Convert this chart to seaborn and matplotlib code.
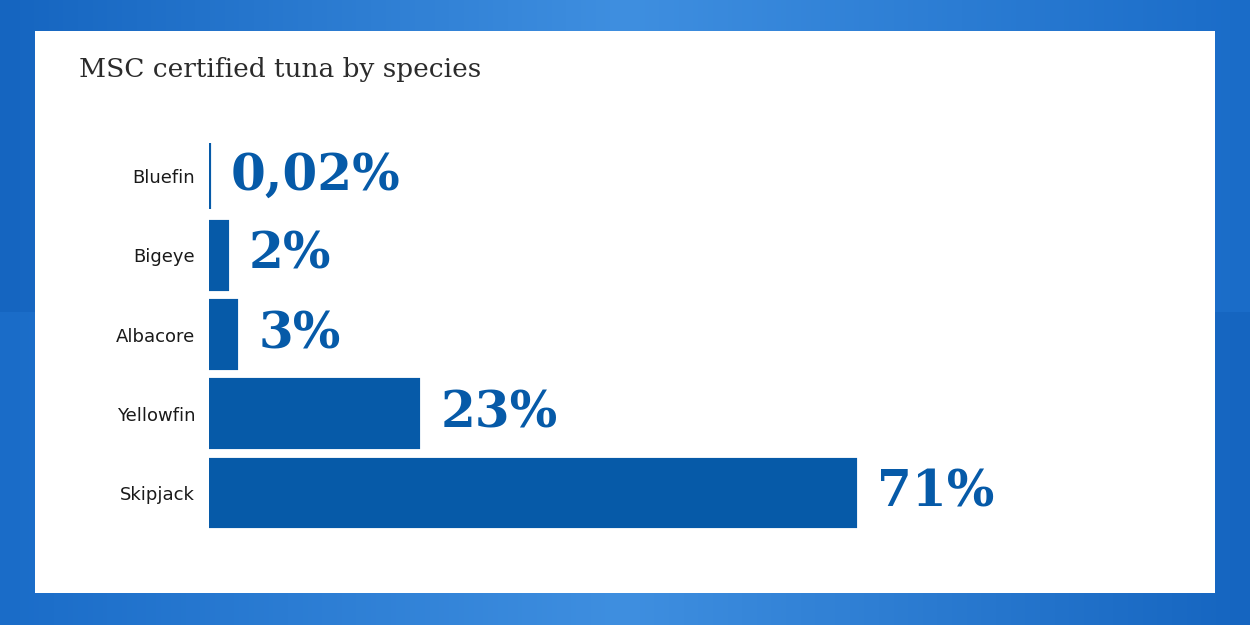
import numpy as np
import matplotlib.pyplot as plt
import seaborn as sns
from matplotlib.patches import Rectangle

species = ["Bluefin", "Bigeye", "Albacore", "Yellowfin", "Skipjack"]
shares = [0.02, 2, 3, 23, 71]
labels = ["0,02%", "2%", "3%", "23%", "71%"]

bar_color = "#065aa8"

fig = plt.figure(figsize=(12.5, 6.25), dpi=100)

# blue watery backdrop
bg = fig.add_axes([0, 0, 1, 1], zorder=-2)
grad = np.linspace(0, 1, 256).reshape(1, -1)
grad = np.vstack([grad, grad[:, ::-1]])
bg.imshow(grad, aspect="auto", cmap=sns.blend_palette(["#1565c0", "#3f8fe0", "#1a6cc8"], as_cmap=True),
          extent=[0, 1, 0, 1])
bg.axis("off")
fig.patches.append(Rectangle((35 / 1250, 1 - 593 / 625), 1180 / 1250, 562 / 625,
                             transform=fig.transFigure, facecolor="white", zorder=-1))

fig.text(79 / 1250, 1 - 70 / 625, "MSC certified tuna by species", fontsize=19,
         family="DejaVu Serif", color="#2b2b2b", va="center")

ax = fig.add_axes([209 / 1250, 1 - 532.6 / 625, 910 / 1250, 396.2 / 625])
ax.patch.set_alpha(0)
sns.barplot(x=shares, y=species, color=bar_color, width=0.84, saturation=1,
            edgecolor=bar_color, linewidth=3, ax=ax)
ax.set_xlim(0, 100)
ax.set_ylim(4.5, -0.5)
for i, (v, t) in enumerate(zip(shares, labels)):
    ax.text(v + 2.4, i, t, va="center", ha="left", fontsize=36, fontweight="bold",
            family="DejaVu Serif", color=bar_color)
ax.set_xticks([])
ax.tick_params(axis="y", length=0, pad=10, labelsize=13, labelcolor="#1a1a1a")
for s in ax.spines.values():
    s.set_visible(False)
ax.set_xlabel("")
ax.set_ylabel("")

fig.savefig("out.png", dpi=100)
